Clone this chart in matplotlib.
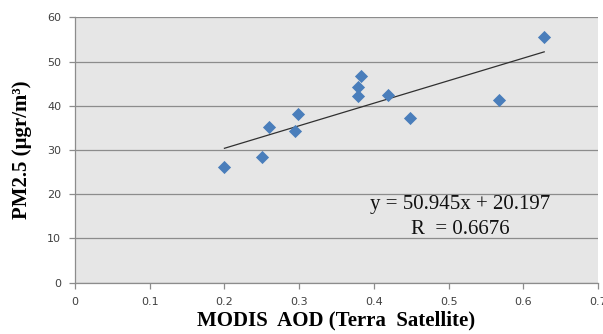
import matplotlib
matplotlib.use("Agg")
import matplotlib.pyplot as plt

# data
aod = [0.20, 0.25, 0.259, 0.294, 0.298, 0.383, 0.379, 0.379, 0.419, 0.449, 0.568, 0.628]
pm25 = [26.2, 28.4, 35.3, 34.2, 38.1, 46.8, 44.3, 42.3, 42.5, 37.3, 41.3, 55.5]
slope = 50.945
intercept = 20.197
x_ticks = [0, 0.1, 0.2, 0.3, 0.4, 0.5, 0.6, 0.7]
x_tick_labels = ["0", "0.1", "0.2", "0.3", "0.4", "0.5", "0.6", "0.7"]
y_ticks = [0, 10, 20, 30, 40, 50, 60]


def main():
    fig = plt.figure(figsize=(6.03, 3.34), dpi=100)
    ax = fig.add_axes([0.1244, 0.1536, 0.8673, 0.7946])
    ax.set_facecolor("#e6e6e6")

    ax.set_xlim(0, 0.7)
    ax.set_ylim(0, 60)
    ax.set_xticks(x_ticks)
    ax.set_xticklabels(x_tick_labels)
    ax.set_yticks(y_ticks)
    ax.yaxis.grid(True, color="#8c8c8c", linewidth=0.9)
    ax.set_axisbelow(True)

    for side in ["top", "right"]:
        ax.spines[side].set_visible(False)
    for side in ["left", "bottom"]:
        ax.spines[side].set_color("#8c8c8c")
        ax.spines[side].set_linewidth(0.9)
    ax.tick_params(colors="#8c8c8c", length=4, width=0.9, direction="out",
                   labelsize=8, labelcolor="#404040", pad=6)

    # trend line over the data range
    x0, x1 = min(aod), max(aod)
    ax.plot([x0, x1], [slope * x0 + intercept, slope * x1 + intercept],
            color="#303030", linewidth=0.9)

    ax.scatter(aod, pm25, marker="D", s=45, color="#4a7ebb", zorder=3,
               linewidths=0)

    serif = ["Liberation Serif", "DejaVu Serif"]
    ax.text(0.516, 17.6, "y = 50.945x + 20.197", family=serif, fontsize=15,
            ha="center", va="center", color="#111111")
    ax.text(0.516, 12.0, "R  = 0.6676", family=serif, fontsize=15,
            ha="center", va="center", color="#111111")

    ax.set_xlabel("MODIS  AOD (Terra  Satellite)", family=serif, fontsize=15,
                  fontweight="bold", labelpad=3)
    ax.set_ylabel("PM2.5 (µgr/m³)", family=serif, fontsize=15,
                  fontweight="bold", labelpad=11)

    fig.savefig("out.png", dpi=100)


if __name__ == "__main__":
    main()
